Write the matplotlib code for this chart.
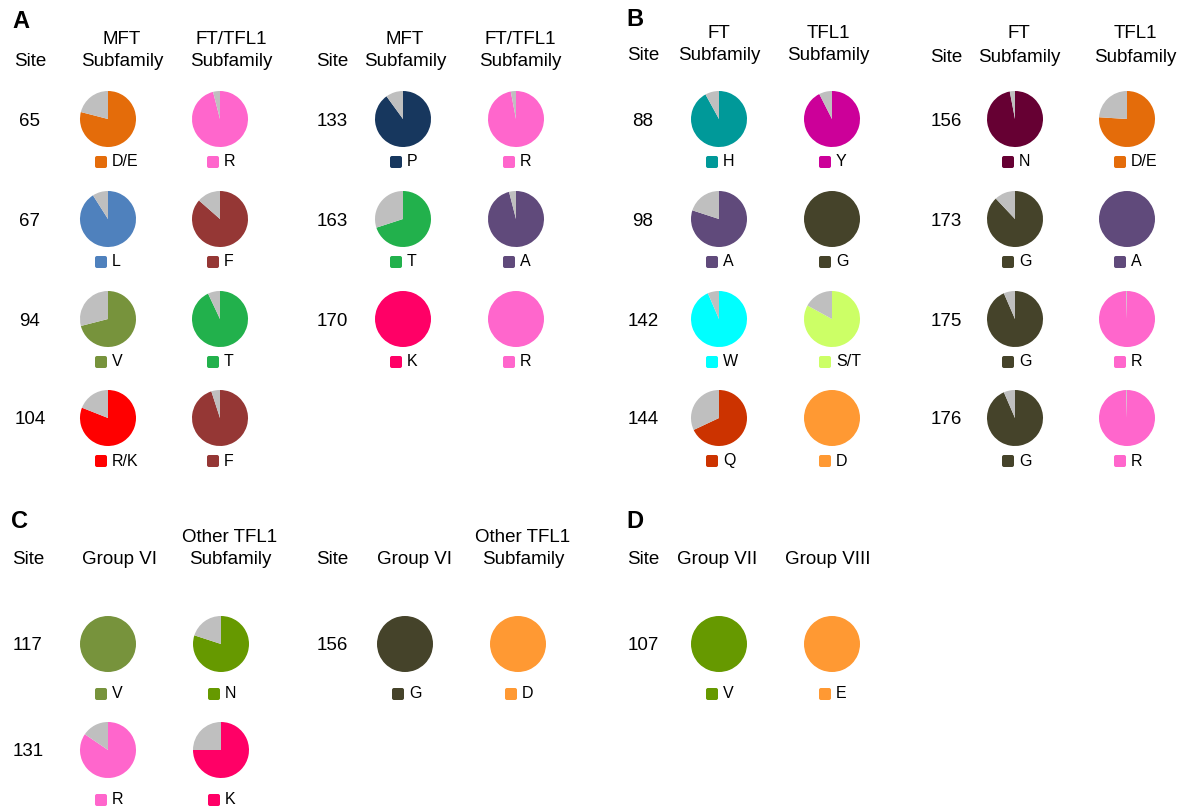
import matplotlib.pyplot as plt
from matplotlib.patches import FancyBboxPatch

plt.rcParams["font.family"] = ["Liberation Sans", "DejaVu Sans"]

W, H = 1183, 807
GREY = "#BFBFBF"

# panel A, left block (MFT vs FT/TFL1)
a1_sites = [65, 67, 94, 104]
a1_res1 = ["D/E", "L", "V", "R/K"]
a1_frac1 = [0.79, 0.91, 0.71, 0.81]
a1_col1 = ["#E46C0A", "#4F81BD", "#77933C", "#FF0000"]
a1_res2 = ["R", "F", "T", "F"]
a1_frac2 = [0.96, 0.865, 0.93, 0.95]
a1_col2 = ["#FF66CC", "#953735", "#22B14C", "#953735"]

# panel A, right block
a2_sites = [133, 163, 170]
a2_res1 = ["P", "T", "K"]
a2_frac1 = [0.90, 0.70, 1.0]
a2_col1 = ["#17375E", "#22B14C", "#FF0066"]
a2_res2 = ["R", "A", "R"]
a2_frac2 = [0.97, 0.96, 1.0]
a2_col2 = ["#FF66CC", "#604A7B", "#FF66CC"]

# panel B, left block (FT vs TFL1)
b1_sites = [88, 98, 142, 144]
b1_res1 = ["H", "A", "W", "Q"]
b1_frac1 = [0.92, 0.80, 0.935, 0.68]
b1_col1 = ["#009999", "#604A7B", "#00FFFF", "#CC3300"]
b1_res2 = ["Y", "G", "S/T", "D"]
b1_frac2 = [0.925, 1.0, 0.83, 1.0]
b1_col2 = ["#CC0099", "#45432A", "#CCFF66", "#FF9933"]

# panel B, right block
b2_sites = [156, 173, 175, 176]
b2_res1 = ["N", "G", "G", "G"]
b2_frac1 = [0.97, 0.88, 0.935, 0.935]
b2_col1 = ["#660033", "#45432A", "#45432A", "#45432A"]
b2_res2 = ["D/E", "A", "R", "R"]
b2_frac2 = [0.76, 1.0, 0.995, 0.995]
b2_col2 = ["#E46C0A", "#604A7B", "#FF66CC", "#FF66CC"]

# panel C (Group VI vs other TFL1)
c1_sites = [117, 131]
c1_res1 = ["V", "R"]
c1_frac1 = [1.0, 0.845]
c1_col1 = ["#77933C", "#FF66CC"]
c1_res2 = ["N", "K"]
c1_frac2 = [0.80, 0.75]
c1_col2 = ["#669900", "#FF0066"]

c2_sites = [156]
c2_res1 = ["G"]
c2_frac1 = [1.0]
c2_col1 = ["#45432A"]
c2_res2 = ["D"]
c2_frac2 = [1.0]
c2_col2 = ["#FF9933"]

# panel D (Group VII vs Group VIII)
d_sites = [107]
d_res1 = ["V"]
d_frac1 = [1.0]
d_col1 = ["#669900"]
d_res2 = ["E"]
d_frac2 = [1.0]
d_col2 = ["#FF9933"]

fig = plt.figure(figsize=(W / 100, H / 100), dpi=100)
ax = fig.add_axes([0, 0, 1, 1])

R_PIE = 28
FS_HDR = 13.5
FS_NUM = 13.5
FS_RES = 11.5


def pie_with_key(cx, cy, frac, color, res, key_dy):
    # y axis is inverted: start at -90 (screen top), ccw in data = clockwise on screen
    ax.pie([frac, 1 - frac], colors=[color, GREY], center=(cx, cy),
           radius=R_PIE, startangle=-90, counterclock=True,
           wedgeprops=dict(linewidth=0), frame=True)
    ky = cy + key_dy
    ax.add_patch(FancyBboxPatch((cx - 12, ky - 5), 10, 10,
                                boxstyle="round,pad=1,rounding_size=2",
                                color=color, lw=0))
    ax.text(cx + 4, ky, res, fontsize=FS_RES, ha="left", va="center")


def block(site_x, col_x, hdr_x, site_hdr_y, hdr_y, headers, rows_y, key_dy,
          sites, res1, frac1, col1, res2, frac2, col2):
    ax.text(site_x, site_hdr_y, "Site", fontsize=FS_HDR, ha="center", va="center")
    for hx, h in zip(hdr_x, headers):
        lines = h.split("\n")
        for ln, yy in zip(lines[::-1], hdr_y[::-1]):
            ax.text(hx, yy, ln, fontsize=FS_HDR, ha="center", va="center")
    for i, s in enumerate(sites):
        y = rows_y[i]
        ax.text(site_x, y + 2, str(s), fontsize=FS_NUM, ha="center", va="center")
        pie_with_key(col_x[0], y, frac1[i], col1[i], res1[i], key_dy)
        pie_with_key(col_x[1], y, frac2[i], col2[i], res2[i], key_dy)


rows_top = [119, 219, 319, 418]
rows_bot = [644, 750]

block(30, [108, 220], [122, 231], 62, [40, 62],
      ["MFT\nSubfamily", "FT/TFL1\nSubfamily"], rows_top, 43,
      a1_sites, a1_res1, a1_frac1, a1_col1, a1_res2, a1_frac2, a1_col2)
block(332, [403, 516], [405, 520], 62, [40, 62],
      ["MFT\nSubfamily", "FT/TFL1\nSubfamily"], rows_top, 43,
      a2_sites, a2_res1, a2_frac1, a2_col1, a2_res2, a2_frac2, a2_col2)
block(643, [719, 832], [719, 828], 55, [33, 56],
      ["FT\nSubfamily", "TFL1\nSubfamily"], rows_top, 43,
      b1_sites, b1_res1, b1_frac1, b1_col1, b1_res2, b1_frac2, b1_col2)
block(946, [1015, 1127], [1019, 1135], 57, [33, 57],
      ["FT\nSubfamily", "TFL1\nSubfamily"], rows_top, 43,
      b2_sites, b2_res1, b2_frac1, b2_col1, b2_res2, b2_frac2, b2_col2)
block(28, [108, 221], [120, 230], 560, [537, 560],
      ["Group VI", "Other TFL1\nSubfamily"], rows_bot, 50,
      c1_sites, c1_res1, c1_frac1, c1_col1, c1_res2, c1_frac2, c1_col2)
block(332, [405, 518], [415, 523], 560, [537, 560],
      ["Group VI", "Other TFL1\nSubfamily"], rows_bot, 50,
      c2_sites, c2_res1, c2_frac1, c2_col1, c2_res2, c2_frac2, c2_col2)
block(643, [719, 832], [717, 828], 560, [537, 560],
      ["Group VII", "Group VIII"], rows_bot, 50,
      d_sites, d_res1, d_frac1, d_col1, d_res2, d_frac2, d_col2)

for lab, x, y in [("A", 21, 21), ("B", 635, 20), ("C", 20, 522), ("D", 635, 522)]:
    ax.text(x, y, lab, fontsize=17, fontweight="bold", ha="center", va="center")

ax.set_xlim(0, W)
ax.set_ylim(H, 0)
ax.set_aspect("auto")
ax.axis("off")

fig.savefig("out.png", dpi=100)
